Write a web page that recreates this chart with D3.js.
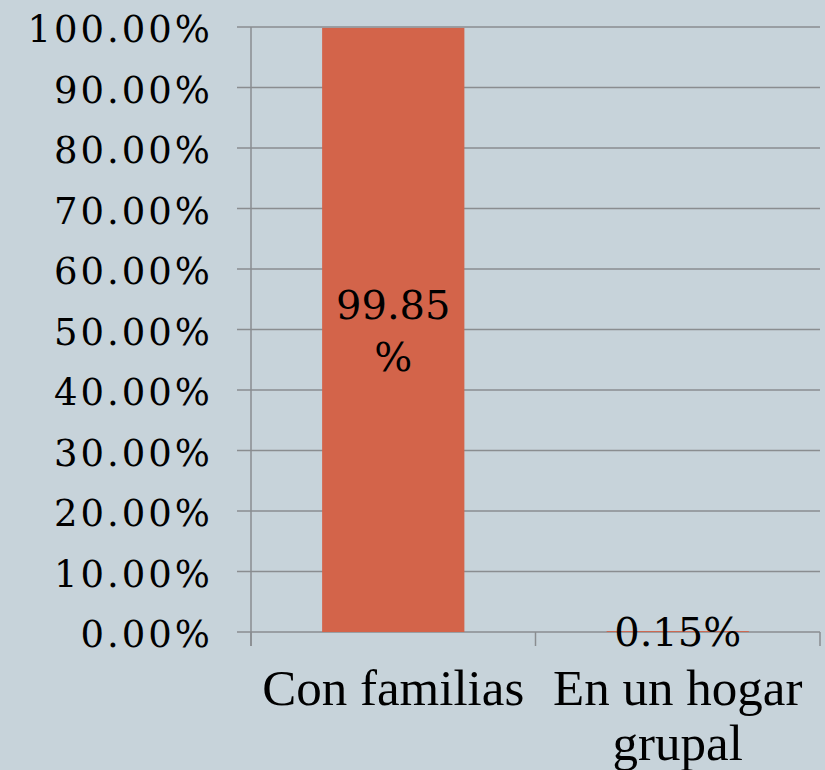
<!DOCTYPE html>
<html>
<head>
<meta charset="utf-8">
<script src="https://cdn.jsdelivr.net/npm/d3@7"></script>
<style>
  body { margin: 0; background: #c7d3da; }
  svg { display: block; }
</style>
</head>
<body>
<div id="chart"></div>
<script>
var categories = ['Con familias', 'En un hogar grupal']
var catLines = [['Con familias'], ['En un hogar', 'grupal']]
var values = [99.85, 0.15]
var valueLabels = [['99.85', '%'], ['0.15%']]
var yTicks = [0, 10, 20, 30, 40, 50, 60, 70, 80, 90, 100]

var w = 825, h = 770
var mLeft = 251, mRight = 820, mTop = 27, mBottom = 632

var svg = d3.select('#chart').append('svg').attr('width', w).attr('height', h)
svg.append('rect').attr('width', w).attr('height', h).attr('fill', '#c7d3da')

var x = d3.scaleBand().domain(categories).range([mLeft, mRight]).paddingInner(0).paddingOuter(0)
var y = d3.scaleLinear().domain([0, 100]).range([mBottom, mTop])

// gridlines
svg.selectAll('line.grid').data(yTicks).enter().append('line')
  .attr('x1', mLeft - 14).attr('x2', mRight)
  .attr('y1', function (d) { return y(d) }).attr('y2', function (d) { return y(d) })
  .attr('stroke', '#8a8d90').attr('stroke-width', 1.5)

// y axis line
svg.append('line').attr('x1', mLeft).attr('x2', mLeft).attr('y1', mTop).attr('y2', mBottom + 14)
  .attr('stroke', '#8a8d90').attr('stroke-width', 1.5)

// x ticks
var xt = categories.map(function (c) { return x(c) }).concat([mRight])
svg.selectAll('line.xt').data(xt).enter().append('line')
  .attr('x1', function (d) { return d }).attr('x2', function (d) { return d })
  .attr('y1', mBottom).attr('y2', mBottom + 14)
  .attr('stroke', '#8a8d90').attr('stroke-width', 1.5)

// y labels
svg.selectAll('text.yl').data(yTicks).enter().append('text')
  .attr('x', 213).attr('y', function (d) { return y(d) + 15 })
  .attr('text-anchor', 'end')
  .attr('font-family', 'DejaVu Serif').attr('font-size', 37)
  .attr('letter-spacing', 3)
  .attr('fill', '#000')
  .text(function (d) { return d.toFixed(2) + '%' })

// bars
var bw = x.bandwidth() * 0.5
svg.selectAll('rect.bar').data(values).enter().append('rect')
  .attr('x', function (d, i) { return x(categories[i]) + (x.bandwidth() - bw) / 2 })
  .attr('width', bw)
  .attr('y', function (d) { return y(d) })
  .attr('height', function (d) { return mBottom - y(d) })
  .attr('fill', '#d3644a')

// value labels
valueLabels.forEach(function (lines, i) {
  var cx = x(categories[i]) + x.bandwidth() / 2
  var t = svg.append('text').attr('text-anchor', 'middle')
    .attr('font-family', 'DejaVu Serif').attr('font-size', 40).attr('fill', '#000')
  var y0 = i === 0 ? 319 : mBottom + 14
  lines.forEach(function (l, j) {
    t.append('tspan').attr('x', cx).attr('y', y0 + j * 52).text(l)
  })
})

// category labels
catLines.forEach(function (lines, i) {
  var cx = x(categories[i]) + x.bandwidth() / 2
  var t = svg.append('text').attr('text-anchor', 'middle')
    .attr('font-family', 'Liberation Serif').attr('font-size', 51).attr('fill', '#000')
  lines.forEach(function (l, j) {
    t.append('tspan').attr('x', cx).attr('y', 705 + j * 55).text(l)
  })
})
</script>
</body>
</html>
